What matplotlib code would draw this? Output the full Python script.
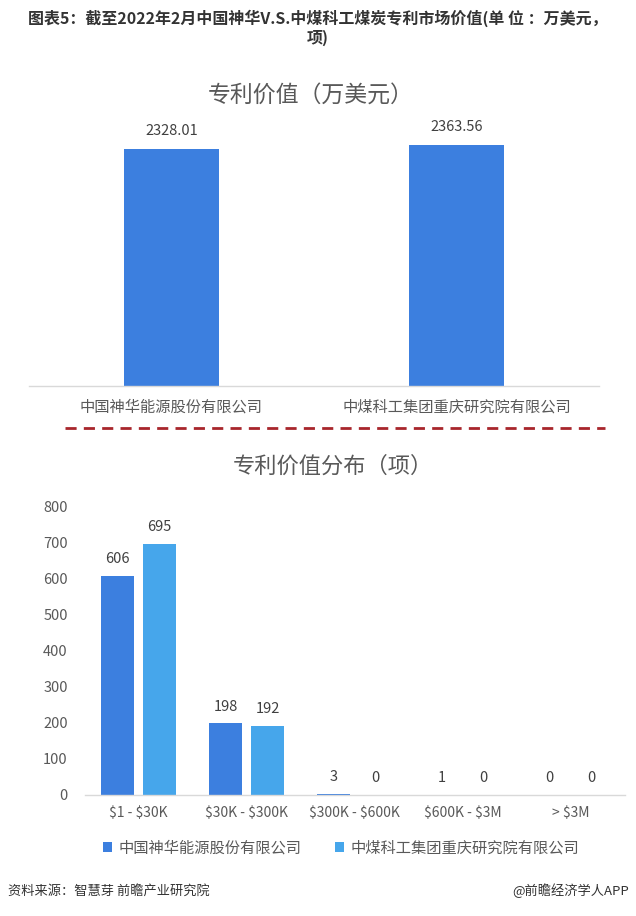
import matplotlib
matplotlib.use("Agg")
import matplotlib.pyplot as plt
import numpy as np
from matplotlib.lines import Line2D
from matplotlib.patches import Patch

plt.rcParams['font.family'] = ['Noto Sans CJK SC', 'DejaVu Sans']
plt.rcParams['text.parse_math'] = False

# ---- data ----
title_main = "图表5：截至2022年2月中国神华V.S.中煤科工煤炭专利市场价值(单 位 ：万美元，\n项)"
companies = ["中国神华能源股份有限公司", "中煤科工集团重庆研究院有限公司"]
patent_value = [2328.01, 2363.56]
value_labels = ["2328.01", "2363.56"]

ranges = ["$1 - $30K", "$30K - $300K", "$300K - $600K", "$600K - $3M", "> $3M"]
shenhua_counts = [606, 198, 3, 1, 0]
zhongmei_counts = [695, 192, 0, 0, 0]

top_title = "专利价值（万美元）"
bottom_title = "专利价值分布（项）"
source_text = "资料来源：智慧芽 前瞻产业研究院"
brand_text = "@前瞻经济学人APP"

W, H = 636, 916
fig = plt.figure(figsize=(W / 100, H / 100), dpi=100)
fig.patch.set_facecolor("white")

def fx(px):
    return px / W

def fy(py):
    return 1 - py / H

dark_blue = "#3C7FDF"
light_blue = "#46A6EB"
axis_gray = "#D9D9D9"
text_gray = "#595959"

# main title
fig.text(0.5, fy(10), title_main, ha="center", va="top", fontsize=11.5,
         fontweight="bold", color="#333333", linespacing=1.15)

# ---- top chart ----
ax1 = fig.add_axes([fx(29), fy(386), fx(570), 254.5 / H])
x1 = np.arange(len(companies))
bars = ax1.bar(x1, patent_value, width=0.335, color=dark_blue)
ax1.set_xlim(-0.5, 1.5)
ax1.set_ylim(0, 2500)
for b, lab in zip(bars, value_labels):
    ax1.annotate(lab, (b.get_x() + b.get_width() / 2, b.get_height()),
                 xytext=(0, 8), textcoords="offset points", ha="center",
                 va="bottom", fontsize=10.5, color="#404040")
ax1.set_xticks(x1)
ax1.set_xticklabels(companies, fontsize=11, color=text_gray)
ax1.tick_params(axis="x", length=0, pad=9)
ax1.set_yticks([])
for s in ["top", "left", "right"]:
    ax1.spines[s].set_visible(False)
ax1.spines["bottom"].set_color(axis_gray)
ax1.spines["bottom"].set_linewidth(1)
fig.text(fx(311), fy(95), top_title, ha="center", va="center",
         fontsize=16.5, color=text_gray)

# dashed separator
fig.add_artist(Line2D([fx(65), fx(605)], [fy(428), fy(428)],
                      color="#A8262C", linewidth=2, dashes=(4, 2.6)))

# ---- bottom chart ----
fig.text(fx(333), fy(466), bottom_title, ha="center", va="center",
         fontsize=16, color=text_gray)

ax2 = fig.add_axes([fx(84.5), fy(795), fx(540), 289 / H])
x2 = np.arange(len(ranges))
bw = 0.306
off = 0.194
b1 = ax2.bar(x2 - off, shenhua_counts, width=bw, color=dark_blue)
b2 = ax2.bar(x2 + off, zhongmei_counts, width=bw, color=light_blue)
ax2.set_xlim(-0.5, 4.5)
ax2.set_ylim(0, 800)
for group in (b1, b2):
    for b in group:
        ax2.annotate(f"{int(b.get_height())}", (b.get_x() + b.get_width() / 2, b.get_height()),
                     xytext=(0, 7), textcoords="offset points", ha="center",
                     va="bottom", fontsize=10.5, color="#404040")
ax2.set_yticks(np.arange(0, 801, 100))
ax2.tick_params(axis="y", length=0, pad=12, labelsize=10.5, labelcolor=text_gray)
ax2.set_xticks(x2)
ax2.set_xticklabels(ranges, fontsize=10, color=text_gray)
ax2.tick_params(axis="x", length=0, pad=8)
for s in ["top", "left", "right"]:
    ax2.spines[s].set_visible(False)
ax2.spines["bottom"].set_color(axis_gray)
ax2.spines["bottom"].set_linewidth(1)

handles = [Patch(facecolor=dark_blue, label=companies[0]),
           Patch(facecolor=light_blue, label=companies[1])]
fig.legend(handles=handles, loc="center", bbox_to_anchor=(fx(341), fy(848)),
           ncol=2, frameon=False, fontsize=11, labelcolor=text_gray,
           handlelength=0.6, handleheight=0.6, handletextpad=0.4,
           columnspacing=2.2)

# footer
fig.text(fx(8), fy(891), source_text, ha="left", va="center",
         fontsize=9.5, color="#333333")
fig.text(fx(629), fy(891), brand_text, ha="right", va="center",
         fontsize=9.5, color="#333333")

fig.savefig("out.png", dpi=100, facecolor="white")
